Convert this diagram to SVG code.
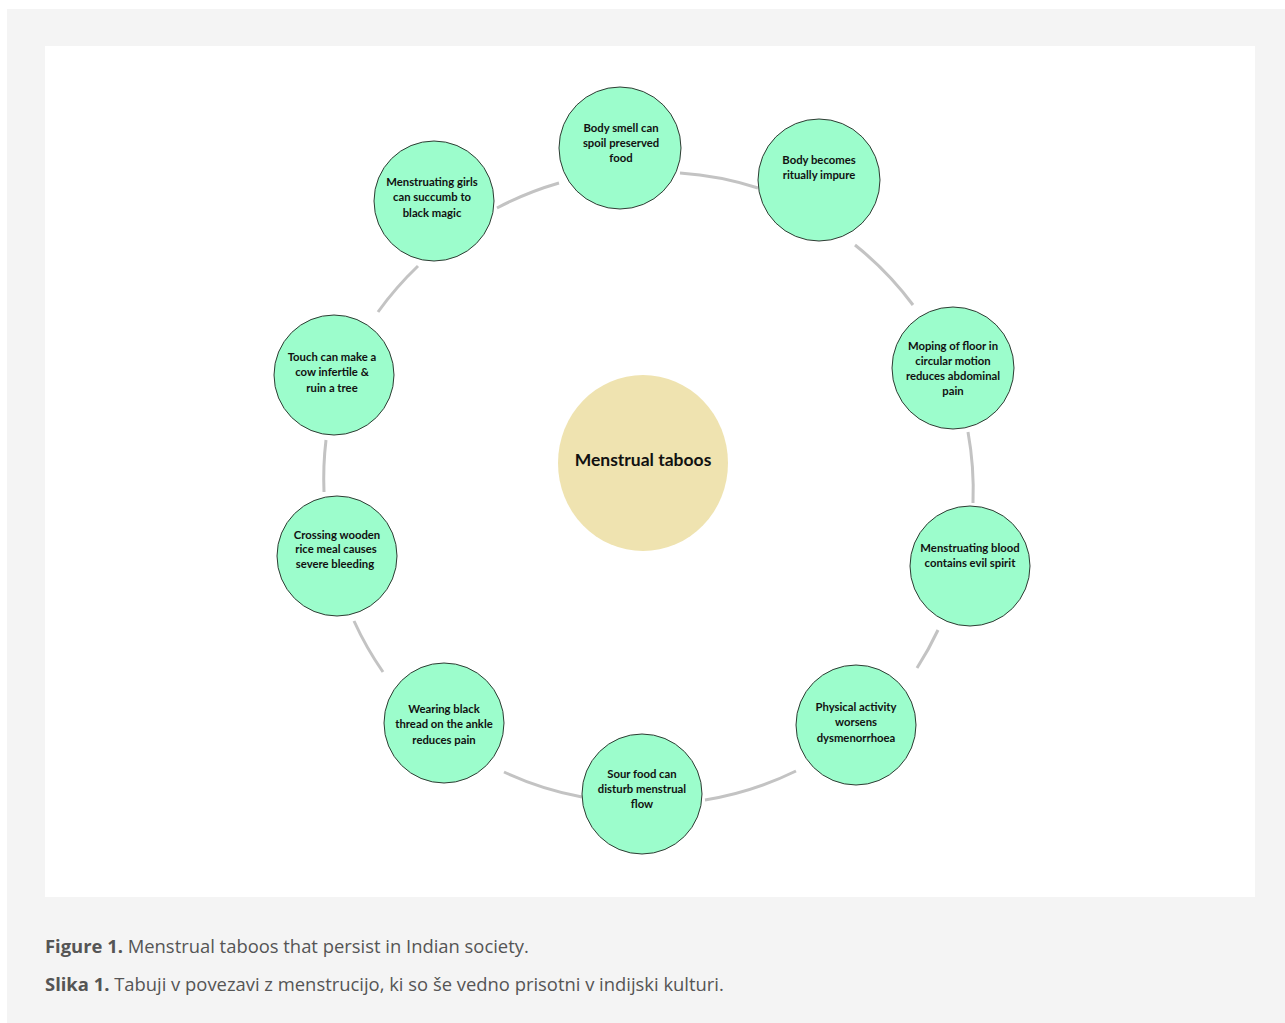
<svg xmlns="http://www.w3.org/2000/svg" width="1285" height="1023" viewBox="0 0 1285 1023">
<style>
.node circle{fill:#9cfdcc;stroke:#2f3b33;stroke-width:1}
.node text{font-family:Lato,"Open Sans",sans-serif;font-weight:bold;font-size:11.3px;fill:#111;text-anchor:middle}
.arc{fill:none;stroke:#c3c3c3;stroke-width:3}
.cap{font-family:"Open Sans","Liberation Sans",sans-serif;font-size:18.4px;fill:#555}
</style>
<rect x="0" y="0" width="1285" height="1023" fill="#ffffff"/>
<rect x="7" y="9" width="1278" height="1014" fill="#f4f4f4"/>
<rect x="45" y="46" width="1210" height="851" fill="#ffffff"/>
<g id="connectors">
<path class="arc" d="M497 208 A325 325 0 0 1 559 183"/>
<path class="arc" d="M680 173 A325 325 0 0 1 758 188"/>
<path class="arc" d="M855 245 A325 325 0 0 1 913 305"/>
<path class="arc" d="M968 432 A325 325 0 0 1 973 503"/>
<path class="arc" d="M938 630 A325 325 0 0 1 917 668"/>
<path class="arc" d="M796 771 A325 325 0 0 1 705 800"/>
<path class="arc" d="M582 797 A325 325 0 0 1 504 772"/>
<path class="arc" d="M383 672 A325 325 0 0 1 354 621"/>
<path class="arc" d="M324 492 A325 325 0 0 1 326 440"/>
<path class="arc" d="M378 312 A325 325 0 0 1 418 266"/>
</g>
<g id="center">
<ellipse cx="643" cy="463" rx="85" ry="88" fill="#efe3b0"/>
<text x="643" y="466" text-anchor="middle" font-family="Lato,'Open Sans',sans-serif" font-weight="bold" font-size="17.5" fill="#111">Menstrual taboos</text>
</g>
<g id="n1" class="node"><circle cx="620" cy="148" r="61"/>
<text x="621" y="132">Body smell can</text><text x="621" y="147">spoil preserved</text><text x="621" y="162">food</text></g>
<g id="n2" class="node"><circle cx="819" cy="180" r="61"/>
<text x="819" y="164">Body becomes</text><text x="819" y="179">ritually impure</text></g>
<g id="n3" class="node"><circle cx="953" cy="368" r="61"/>
<text x="953" y="350">Moping of floor in</text><text x="953" y="365">circular motion</text><text x="953" y="380">reduces abdominal</text><text x="953" y="395">pain</text></g>
<g id="n4" class="node"><circle cx="970" cy="566" r="60"/>
<text x="970" y="552">Menstruating blood</text><text x="970" y="567">contains evil spirit</text></g>
<g id="n5" class="node"><circle cx="856" cy="725" r="60"/>
<text x="856" y="711">Physical activity</text><text x="856" y="726">worsens</text><text x="856" y="742">dysmenorrhoea</text></g>
<g id="n6" class="node"><circle cx="642" cy="794" r="60"/>
<text x="642" y="778">Sour food can</text><text x="642" y="793">disturb menstrual</text><text x="642" y="808">flow</text></g>
<g id="n7" class="node"><circle cx="444" cy="723" r="60"/>
<text x="444" y="713">Wearing black</text><text x="444" y="728">thread on the ankle</text><text x="444" y="744">reduces pain</text></g>
<g id="n8" class="node"><circle cx="337" cy="556" r="60"/>
<text x="337" y="539">Crossing wooden</text><text x="336" y="553">rice meal causes</text><text x="335" y="568">severe bleeding</text></g>
<g id="n9" class="node"><circle cx="334" cy="375" r="60"/>
<text x="332" y="361">Touch can make a</text><text x="332" y="376">cow infertile &amp;</text><text x="332" y="392">ruin a tree</text></g>
<g id="n10" class="node"><circle cx="434" cy="201" r="60"/>
<text x="432" y="186">Menstruating girls</text><text x="432" y="201">can succumb to</text><text x="432" y="217">black magic</text></g>
<text class="cap" x="45" y="953"><tspan font-weight="bold">Figure 1.</tspan> Menstrual taboos that persist in Indian society.</text>
<text class="cap" x="45" y="991"><tspan font-weight="bold">Slika 1.</tspan> Tabuji v povezavi z menstrucijo, ki so še vedno prisotni v indijski kulturi.</text>
</svg>
